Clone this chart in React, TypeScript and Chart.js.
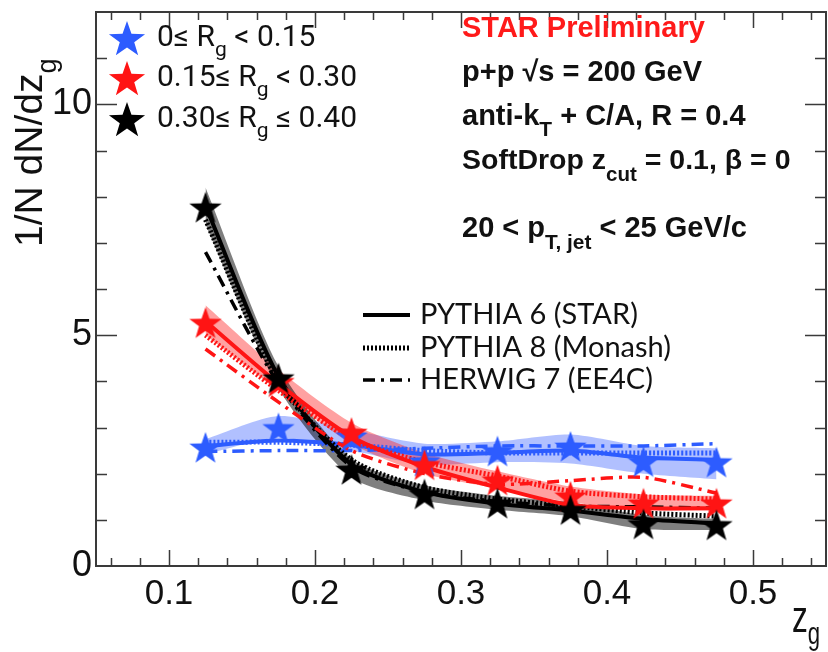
import React, { useEffect, useRef } from 'react';
import { Chart, registerables } from 'chart.js';

Chart.register(...registerables);

// ---------- data ----------
const zgBins = [0.125, 0.175, 0.225, 0.275, 0.325, 0.375, 0.425, 0.475];
const xTickValues = [0.1, 0.2, 0.3, 0.4, 0.5];
const yTickValues = [0, 5, 10];

// STAR data (stars) and systematic bands
const dataLowRg = [2.58, 3.0, 2.82, 2.28, 2.5, 2.6, 2.27, 2.26];
const bandLowRgLo = [2.42, 2.78, 2.5, 2.2, 2.25, 2.22, 2.0, 1.88];
const bandLowRgHi = [2.75, 3.25, 2.95, 2.65, 2.7, 2.85, 2.6, 2.55];

const dataMidRg = [5.28, 4.0, 2.9, 2.2, 1.87, 1.52, 1.37, 1.37];
const bandMidRgLo = [5.0, 3.8, 2.65, 2.0, 1.68, 1.38, 1.22, 1.2];
const bandMidRgHi = [5.65, 4.25, 3.1, 2.45, 2.05, 1.72, 1.55, 1.52];

const dataHighRg = [7.78, 4.08, 2.1, 1.57, 1.37, 1.23, 0.92, 0.9];
const bandHighRgLo = [7.4, 3.85, 1.92, 1.42, 1.22, 1.08, 0.8, 0.78];
const bandHighRgHi = [8.2, 4.32, 2.32, 1.75, 1.52, 1.38, 1.1, 1.02];

// model curves
const py6LowRg = [2.6, 2.72, 2.62, 2.42, 2.45, 2.5, 2.35, 2.3];
const py8LowRg = [2.68, 2.68, 2.62, 2.5, 2.45, 2.45, 2.45, 2.45];
const hw7LowRg = [2.48, 2.5, 2.5, 2.55, 2.6, 2.6, 2.6, 2.65];

const py6MidRg = [5.3, 3.95, 2.8, 2.15, 1.7, 1.32, 1.25, 1.25];
const py8MidRg = [5.0, 3.8, 2.75, 2.25, 1.95, 1.62, 1.5, 1.45];
const hw7MidRg = [4.7, 3.55, 2.5, 2.0, 1.77, 1.85, 1.92, 1.58];

const py6HighRg = [7.8, 4.1, 2.2, 1.6, 1.35, 1.2, 1.02, 0.92];
const py8HighRg = [7.5, 4.0, 2.3, 1.7, 1.45, 1.3, 1.15, 1.08];
const hw7HighRg = [6.8, 3.95, 2.15, 1.6, 1.4, 1.3, 1.28, 1.25];

const classLabels = [
  ['0≤ R', 'g', ' < 0.15'],
  ['0.15≤ R', 'g', ' < 0.30'],
  ['0.30≤ R', 'g', ' ≤ 0.40'],
];
const modelLabels = ['PYTHIA 6 (STAR)', 'PYTHIA 8 (Monash)', 'HERWIG 7 (EE4C)'];

// ---------- styles ----------
const BLUE = '#2d5cff';
const RED = '#ff1414';
const BLACK = '#000000';
const BAND_BLUE = 'rgba(40,80,255,0.36)';
const BAND_RED = 'rgba(255,30,30,0.42)';
const BAND_BLACK = 'rgba(0,0,0,0.5)';
const SANS = '"Liberation Sans", Arial, Helvetica, sans-serif';
const DOT = [2, 2];
const DASHDOT = [12, 6, 3, 6];

function makeStar(color: string, R: number): HTMLCanvasElement {
  const c = document.createElement('canvas');
  const s = Math.ceil(2 * R + 4);
  c.width = s;
  c.height = s;
  const g = c.getContext('2d')!;
  const r = R * 0.4;
  g.beginPath();
  for (let i = 0; i < 10; i++) {
    const a = -Math.PI / 2 + (i * Math.PI) / 5;
    const rad = i % 2 === 0 ? R : r;
    g.lineTo(s / 2 + rad * Math.cos(a), s / 2 + 2 + rad * Math.sin(a));
  }
  g.closePath();
  g.fillStyle = color;
  g.fill();
  return c;
}

type Part = [string, boolean?];
function drawRich(
  ctx: CanvasRenderingContext2D,
  x: number,
  y: number,
  parts: Part[],
  size: number,
  weight: string,
  family: string,
  color: string,
  subScale = 0.72,
  subDrop = 0.42
) {
  ctx.fillStyle = color;
  ctx.textBaseline = 'middle';
  ctx.textAlign = 'left';
  let cx = x;
  for (const [t, sub] of parts) {
    const fs = sub ? size * subScale : size;
    ctx.font = `${weight} ${fs}px ${family}`;
    ctx.fillText(t, cx, y + (sub ? size * subDrop : 0));
    cx += ctx.measureText(t).width;
  }
  return cx;
}

export default function App() {
  const ref = useRef<HTMLCanvasElement>(null);

  useEffect(() => {
    const canvas = ref.current!;
    const pts = (ys: number[]) => zgBins.map((x, i) => ({ x, y: ys[i] }));

    const starBlue = makeStar(BLUE, 17);
    const starRed = makeStar(RED, 17);
    const starBlack = makeStar(BLACK, 17);
    const legStars = [makeStar(BLUE, 19), makeStar(RED, 19), makeStar(BLACK, 19)];

    const band = (lo: number[], hi: number[], color: string, order: number) => [
      { data: pts(lo), borderWidth: 0, pointRadius: 0, fill: false, order, tension: 0.25, borderColor: 'transparent' },
      { data: pts(hi), borderWidth: 0, pointRadius: 0, fill: '-1', backgroundColor: color, order, tension: 0.25, borderColor: 'transparent' },
    ];
    const model = (ys: number[], color: string, width: number, dash: number[], order: number) => ({
      data: pts(ys),
      borderColor: color,
      borderWidth: width,
      borderDash: dash,
      pointRadius: 0,
      fill: false,
      tension: 0.25,
      order,
    });
    const stars = (ys: number[], img: HTMLCanvasElement, order: number) => ({
      data: pts(ys),
      showLine: false,
      pointStyle: img,
      pointRadius: 17,
      fill: false,
      order,
    });

    const datasets: any[] = [
      ...band(bandLowRgLo, bandLowRgHi, BAND_BLUE, 30),
      ...band(bandMidRgLo, bandMidRgHi, BAND_RED, 29),
      ...band(bandHighRgLo, bandHighRgHi, BAND_BLACK, 28),
      model(py6LowRg, BLUE, 4, [], 22),
      model(py8LowRg, BLUE, 5, DOT, 21),
      model(hw7LowRg, BLUE, 3.5, DASHDOT, 20),
      model(py6HighRg, BLACK, 4, [], 16),
      model(py8HighRg, BLACK, 5, DOT, 15),
      model(hw7HighRg, BLACK, 3.5, DASHDOT, 14),
      model(py6MidRg, RED, 4, [], 12),
      model(py8MidRg, RED, 5, DOT, 11),
      model(hw7MidRg, RED, 3.5, DASHDOT, 10),
      stars(dataLowRg, starBlue, 3),
      stars(dataMidRg, starRed, 2),
      stars(dataHighRg, starBlack, 1),
    ];

    const decor = {
      id: 'decor',
      afterDraw(chart: any) {
        const ctx: CanvasRenderingContext2D = chart.ctx;
        const xs = chart.scales.x;
        const ys = chart.scales.y;
        const { left, right, top, bottom } = chart.chartArea;
        ctx.save();
        // frame
        ctx.strokeStyle = '#3a3a3a';
        ctx.lineWidth = 2;
        ctx.setLineDash([]);
        ctx.strokeRect(left, top, right - left, bottom - top);
        ctx.lineWidth = 1.5;
        ctx.beginPath();
        for (let k = 3; k <= 27; k++) {
          const px = Math.round(xs.getPixelForValue(k * 0.02)) + 0.5;
          const len = k % 5 === 0 ? 16 : 8;
          ctx.moveTo(px, bottom);
          ctx.lineTo(px, bottom - len);
          ctx.moveTo(px, top);
          ctx.lineTo(px, top + len);
        }
        for (let v = 1; v <= 11; v++) {
          const py = Math.round(ys.getPixelForValue(v)) + 0.5;
          const len = v % 5 === 0 ? 21 : 11;
          ctx.moveTo(left, py);
          ctx.lineTo(left + len, py);
          ctx.moveTo(right, py);
          ctx.lineTo(right - len, py);
        }
        ctx.stroke();

        // y title
        ctx.save();
        ctx.translate(31, 247);
        ctx.rotate(-Math.PI / 2);
        drawRich(ctx, 0, 0, [['1/N dN/dz'], ['g', true]], 39, 'normal', SANS, '#111', 0.7, 0.45);
        ctx.restore();

        // x title
        ctx.save();
        ctx.translate(792, 620);
        ctx.scale(0.72, 1);
        drawRich(ctx, 0, 0, [['z'], ['g', true]], 44, 'normal', SANS, '#111', 0.7, 0.36);
        ctx.restore();

        // class legend
        const legY = [38, 78, 119];
        classLabels.forEach((lab, i) => {
          const img = legStars[i];
          ctx.drawImage(img, 127 - img.width / 2, legY[i] - img.height / 2);
          drawRich(ctx, 157, legY[i], [[lab[0]], [lab[1], true], [lab[2]]], 30, 'normal', 'Roboto, ' + SANS, '#111', 0.7, 0.42);
        });

        // header text
        const hx = 462;
        drawRich(ctx, hx, 29, [['STAR Preliminary']], 29, 'bold', SANS, '#ff1a1a');
        drawRich(ctx, hx, 73, [['p+p √s = 200 GeV']], 29, 'bold', SANS, '#111');
        drawRich(ctx, hx, 117, [['anti-k'], ['T', true], [' + C/A, R = 0.4']], 29, 'bold', SANS, '#111', 0.72, 0.45);
        drawRich(ctx, hx, 161, [['SoftDrop z'], ['cut', true], [' = 0.1, β = 0']], 28.5, 'bold', SANS, '#111', 0.72, 0.5);
        drawRich(ctx, hx, 229, [['20 < p'], ['T, jet', true], [' < 25 GeV/c']], 29, 'bold', SANS, '#111', 0.72, 0.5);

        // model legend
        const mY = [315, 348, 380];
        const mStyles: [number, number[]][] = [[4, []], [5, DOT], [3.5, DASHDOT]];
        mY.forEach((y, i) => {
          ctx.strokeStyle = '#000';
          ctx.lineWidth = mStyles[i][0];
          ctx.setLineDash(mStyles[i][1]);
          ctx.beginPath();
          ctx.moveTo(363, y);
          ctx.lineTo(410, y);
          ctx.stroke();
          ctx.setLineDash([]);
          drawRich(ctx, 420, y, [[modelLabels[i]]], 29, 'normal', 'Lato, ' + SANS, '#111');
        });
        ctx.restore();
      },
    };

    const chart = new Chart(canvas, {
      type: 'line',
      data: { datasets },
      options: {
        animation: false,
        responsive: false,
        maintainAspectRatio: false,
        layout: { autoPadding: false, padding: { left: 0, right: 2, top: 12, bottom: 0 } },
        plugins: {
          legend: { display: false },
          tooltip: { enabled: false },
          filler: { propagate: false },
        },
        scales: {
          x: {
            type: 'linear',
            min: 0.05,
            max: 0.55,
            grid: { display: false, drawTicks: false },
            border: { display: false },
            afterBuildTicks: (s: any) => {
              s.ticks = xTickValues.map((v) => ({ value: v }));
            },
            afterFit: (s: any) => {
              s.height = 86;
              s.paddingLeft = 0;
              s.paddingRight = 0;
            },
            ticks: {
              autoSkip: false,
              maxRotation: 0,
              padding: 7,
              color: '#111',
              font: { family: SANS, size: 35 },
              callback: (v: any) => String(v),
            },
          },
          y: {
            type: 'linear',
            min: 0,
            max: 12,
            grid: { display: false, drawTicks: false },
            border: { display: false },
            afterBuildTicks: (s: any) => {
              s.ticks = yTickValues.map((v) => ({ value: v }));
            },
            afterFit: (s: any) => {
              s.width = 96;
              s.paddingTop = 0;
              s.paddingBottom = 0;
            },
            ticks: {
              autoSkip: false,
              padding: 4,
              color: '#111',
              font: { family: SANS, size: 36 },
              callback: (v: any) => String(v),
            },
          },
        },
      } as any,
      plugins: [decor],
    });
    return () => chart.destroy();
  }, []);

  return (
    <div style={{ position: 'absolute', left: 0, top: 0, width: 828, height: 652 }}>
      <canvas ref={ref} width={828} height={652} style={{ display: 'block', width: 828, height: 652 }} />
    </div>
  );
}
